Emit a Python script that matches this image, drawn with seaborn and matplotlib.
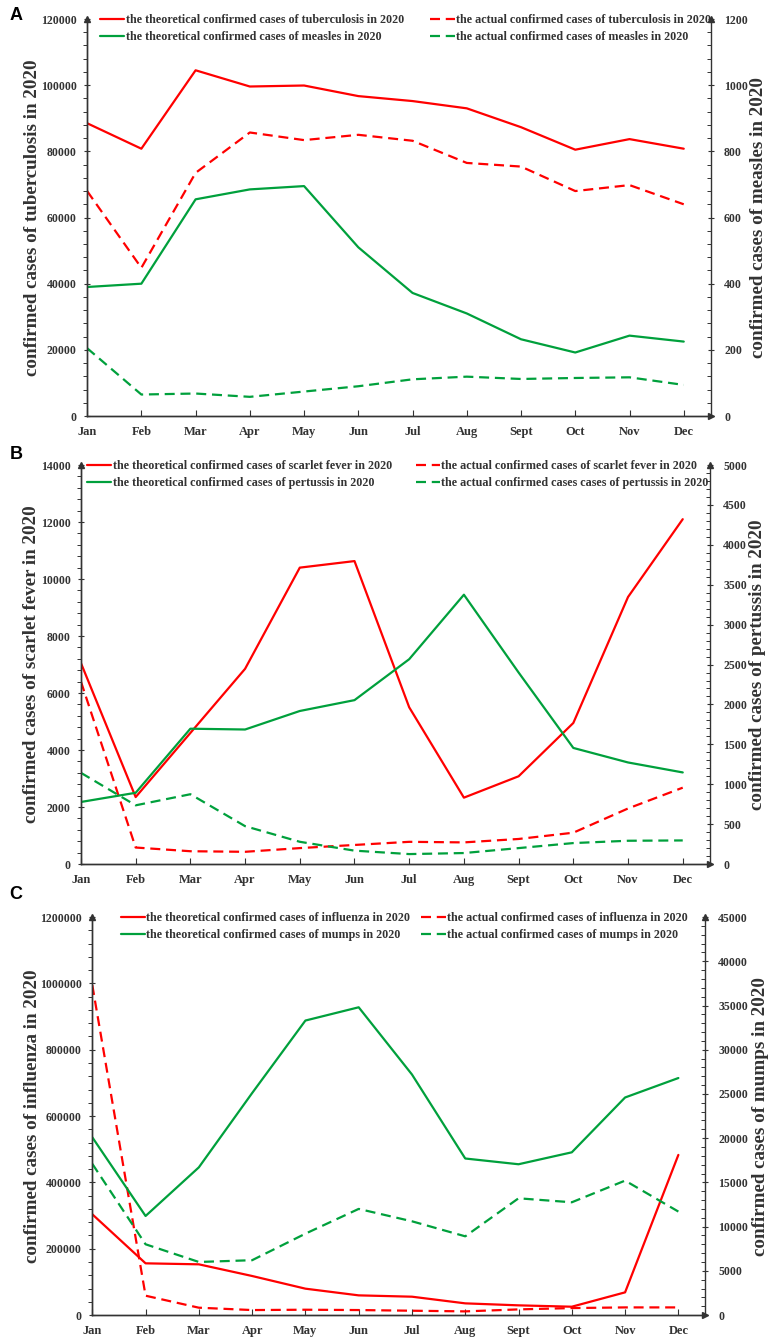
import numpy as np
import pandas as pd
import matplotlib
matplotlib.use("Agg")
import matplotlib.pyplot as plt
from matplotlib.ticker import MultipleLocator, AutoMinorLocator, ScalarFormatter
import seaborn as sns

months = ["Jan", "Feb", "Mar", "Apr", "May", "Jun", "Jul", "Aug", "Sept", "Oct", "Nov", "Dec"]

# Panel A: tuberculosis (left) and measles (right)
tb_theory = [88500, 80800, 104500, 99600, 99900, 96700, 95200, 93000, 87300, 80500, 83700, 80800]
tb_actual = [68000, 44800, 73500, 85700, 83400, 85000, 83200, 76500, 75400, 68000, 69800, 64000]
measles_theory = [390, 400, 655, 685, 695, 510, 372, 310, 232, 192, 243, 225]
measles_actual = [205, 65, 68, 58, 74, 90, 111, 119, 112, 115, 117, 94]

# Panel B: scarlet fever (left) and pertussis (right)
scarlet_theory = [7050, 2350, 4600, 6850, 10400, 10630, 5500, 2330, 3080, 4950, 9370, 12100]
scarlet_actual = [6400, 580, 450, 430, 560, 670, 780, 760, 880, 1100, 1950, 2680]
pertussis_theory = [778, 893, 1696, 1686, 1918, 2054, 2567, 3375, 2400, 1455, 1273, 1148]
pertussis_actual = [1143, 736, 875, 475, 279, 168, 125, 138, 200, 263, 292, 296]

# Panel C: influenza (left) and mumps (right)
flu_theory = [303800, 155900, 152900, 117700, 79500, 59300, 55300, 35200, 29200, 25100, 68400, 482800]
flu_actual = [995000, 58300, 22100, 15000, 16000, 15000, 13000, 11000, 17000, 21000, 23000, 23000]
mumps_theory = [20100, 11200, 16700, 25100, 33300, 34800, 27200, 17700, 17050, 18400, 24600, 26800]
mumps_actual = [17100, 8000, 6000, 6200, 9200, 12000, 10600, 8900, 13200, 12750, 15200, 11700]

RED = "#FF0000"
GREEN = "#00A03C"
GREY = "#333333"

sns.set_style("ticks")
plt.rcParams["font.family"] = ["Liberation Serif", "DejaVu Serif"]
plt.rcParams["font.weight"] = "bold"

fig = plt.figure(figsize=(7.71, 13.39), dpi=100)

panels = [
    dict(rect=[0.113, 0.6893, 0.809, 0.2965], letter="A", letter_y=0.995,
         left=(tb_theory, tb_actual), right=(measles_theory, measles_actual),
         lmax=120000, lmaj=20000, rmax=1200, rmaj=200,
         llabel="confirmed cases of tuberculosis in 2020",
         rlabel="confirmed cases of measles in 2020",
         names=["the theoretical confirmed cases of tuberculosis in 2020",
                "the theoretical confirmed cases of measles in 2020",
                "the actual confirmed cases of tuberculosis in 2020",
                "the actual confirmed cases of measles in 2020"],
         leg_x=0.021, colsp=2.2, lx=-0.088, rx=1.076),
    dict(rect=[0.105, 0.3547, 0.816, 0.298], letter="B", letter_y=0.667,
         left=(scarlet_theory, scarlet_actual), right=(pertussis_theory, pertussis_actual),
         lmax=14000, lmaj=2000, rmax=5000, rmaj=500,
         llabel="confirmed cases of scarlet fever in 2020",
         rlabel="confirmed cases of pertussis in 2020",
         names=["the theoretical confirmed cases of scarlet fever in 2020",
                "the theoretical confirmed cases of pertussis in 2020",
                "the actual confirmed cases of scarlet fever in 2020",
                "the actual confirmed cases cases of pertussis in 2020"],
         leg_x=0.01, colsp=2.0, lx=-0.078, rx=1.075),
    dict(rect=[0.1197, 0.0179, 0.7947, 0.2972], letter="C", letter_y=0.338,
         left=(flu_theory, flu_actual), right=(mumps_theory, mumps_actual),
         lmax=1200000, lmaj=200000, rmax=45000, rmaj=5000,
         llabel="confirmed cases of influenza in 2020",
         rlabel="confirmed cases of mumps in 2020",
         names=["the theoretical confirmed cases of influenza in 2020",
                "the theoretical confirmed cases of mumps in 2020",
                "the actual confirmed cases of influenza in 2020",
                "the actual confirmed cases of mumps in 2020"],
         leg_x=0.047, colsp=0.9, lx=-0.098, rx=1.09),
]

x = np.arange(len(months))

for p in panels:
    ax = fig.add_axes(p["rect"])
    ax2 = ax.twinx()

    df = pd.DataFrame({"month": x,
                       "lt": p["left"][0], "la": p["left"][1],
                       "rt": p["right"][0], "ra": p["right"][1]})

    sns.lineplot(data=df, x="month", y="lt", ax=ax, color=RED, lw=1.6)
    sns.lineplot(data=df, x="month", y="la", ax=ax, color=RED, lw=1.6)
    sns.lineplot(data=df, x="month", y="rt", ax=ax2, color=GREEN, lw=1.6)
    sns.lineplot(data=df, x="month", y="ra", ax=ax2, color=GREEN, lw=1.6)
    ax.lines[1].set_dashes((4.5, 2.6))
    ax2.lines[1].set_dashes((4.5, 2.6))

    handles = [ax.lines[0], ax2.lines[0], ax.lines[1], ax2.lines[1]]

    ax.set_xlim(0, 11.5)
    ax.set_ylim(0, p["lmax"])
    ax2.set_ylim(0, p["rmax"])
    ax.yaxis.set_major_locator(MultipleLocator(p["lmaj"]))
    ax.yaxis.set_minor_locator(AutoMinorLocator(5))
    ax2.yaxis.set_major_locator(MultipleLocator(p["rmaj"]))
    ax2.yaxis.set_minor_locator(AutoMinorLocator(5))
    for a in (ax, ax2):
        fmt = ScalarFormatter(useOffset=False)
        fmt.set_scientific(False)
        a.yaxis.set_major_formatter(fmt)
    ax.set_xticks(x)
    ax.set_xticklabels(months)

    for a in (ax, ax2):
        a.spines["top"].set_visible(False)
        for s in a.spines.values():
            s.set_color(GREY)
            s.set_linewidth(1.0)
        a.set_xlabel("")
    ax.spines["right"].set_visible(False)

    ax.tick_params(axis="x", direction="in", length=4, width=0.8, color=GREY,
                   labelsize=9, labelcolor=GREY, pad=7)
    ax.tick_params(axis="y", which="major", direction="inout", length=5, width=0.8,
                   color=GREY, labelsize=8.5, labelcolor=GREY, pad=5)
    ax.tick_params(axis="y", which="minor", direction="out", length=3, width=0.7, color=GREY)
    ax2.tick_params(axis="y", which="major", direction="inout", length=5, width=0.8,
                    color=GREY, labelsize=8.5, labelcolor=GREY, pad=7)
    ax2.tick_params(axis="y", which="minor", direction="in", length=3, width=0.7, color=GREY)

    ax.set_ylabel(p["llabel"], fontsize=13.7, color=GREY, fontweight="bold")
    ax2.set_ylabel(p["rlabel"], fontsize=13.7, color=GREY, fontweight="bold", rotation=90)
    for a, lxp in ((ax, p["lx"]), (ax2, p["rx"])):
        a.yaxis.label.set_va("center")
        a.yaxis.label.set_ha("center")
        a.yaxis.set_label_coords(lxp, 0.5)

    # arrow heads at the axis ends
    ax.plot(0, 1, marker="^", ms=4, color=GREY, transform=ax.transAxes, clip_on=False)
    ax.plot(1, 0, marker=">", ms=4, color=GREY, transform=ax.transAxes, clip_on=False)
    ax.plot(1, 1, marker="^", ms=4, color=GREY, transform=ax.transAxes, clip_on=False)

    ax.legend(handles, p["names"], ncol=2, loc="upper left",
              bbox_to_anchor=(p["leg_x"], 1.013), frameon=False,
              prop={"family": "Liberation Serif", "weight": "bold", "size": 8.7},
              handlelength=2.0, handletextpad=0.1, columnspacing=p["colsp"],
              labelspacing=0.45, borderpad=0, borderaxespad=0, labelcolor=GREY)

    fig.text(0.012, p["letter_y"], p["letter"], fontsize=13, fontweight="bold",
             family="Liberation Sans", va="top", ha="left", color="black")

fig.savefig("out.png", dpi=100)
